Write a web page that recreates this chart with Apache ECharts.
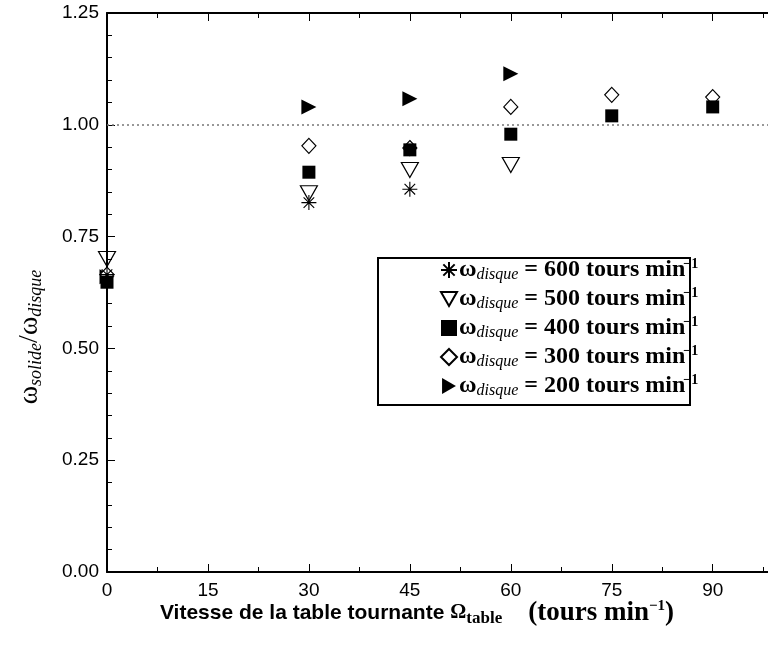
<!DOCTYPE html>
<html>
<head>
<meta charset="utf-8">
<script src="https://cdn.jsdelivr.net/npm/echarts@6/dist/echarts.min.js"></script>
<style>html,body{margin:0;padding:0;background:#fff}#c{width:768px;height:645px}</style>
</head>
<body>
<div id="c"></div>
<script>
var xValues = [0, 30, 45, 60, 75, 90];
var xTicks = [0, 15, 30, 45, 60, 75, 90];
var yTicks = [0, 0.25, 0.5, 0.75, 1.0, 1.25];
var legendRpm = ['600', '500', '400', '300', '200'];
var s600 = [0.665, 0.826, 0.856, null, null, null];
var s500 = [0.700, 0.847, 0.899, 0.910, null, null];
var s400 = [0.648, 0.894, 0.944, 0.979, 1.020, 1.040];
var s300 = [0.665, 0.953, 0.948, 1.040, 1.067, 1.062];
var s200 = [0.660, 1.040, 1.058, 1.114, null, null];
var refLine = 1.0;

function pts(arr) {
  var out = [];
  for (var i = 0; i < xValues.length; i++) if (arr[i] != null) out.push([xValues[i], arr[i]]);
  return out;
}
var serif = 'Liberation Serif';
var sans = 'Liberation Sans';
var legRich = {
  w: {fontFamily: serif, fontWeight: 'bold', fontSize: 24, lineHeight: 26, verticalAlign: 'middle', color: '#000'},
  sub: {fontFamily: serif, fontStyle: 'italic', fontSize: 16, lineHeight: 8, verticalAlign: 'bottom', color: '#000'},
  t: {fontFamily: serif, fontWeight: 'bold', fontSize: 24, lineHeight: 26, verticalAlign: 'middle', color: '#000'},
  sup: {fontFamily: serif, fontWeight: 'bold', fontSize: 14, lineHeight: 8, verticalAlign: 'top', color: '#000', padding: [0, 0, 0, -2]}
};
function legName(r) { return 'ω_disque = ' + r + ' tours min-1'; }

var asterisk = 'path://M0,-10L0,10M-10,0L10,0M-7.07,-7.07L7.07,7.07M-7.07,7.07L7.07,-7.07';
var triDown = 'path://M0,0L20,0L10,17.3Z';
var triRight = 'path://M0,0L17.3,10L0,20Z';
var names = legendRpm.map(legName);

var chart = echarts.init(document.getElementById('c'), null, {renderer: 'canvas'});
var axisCommon = {
  type: 'value', min: 0, max: 100, interval: 15,
  axisLine: {show: true, lineStyle: {color: '#000', width: 2}},
  axisTick: {show: true, inside: true, length: 8, lineStyle: {color: '#000', width: 1}},
  minorTick: {show: true, splitNumber: 2, length: 5, lineStyle: {color: '#000', width: 1}},
  splitLine: {show: false}
};
var option = {
  animation: false,
  backgroundColor: '#fff',
  grid: {left: 107, top: 13, width: 673, bottom: 73, containLabel: false, outerBoundsMode: 'none'},
  xAxis: [
    Object.assign({}, axisCommon, {
      position: 'bottom',
      axisLabel: {show: true, margin: 9, fontFamily: sans, fontSize: 19, color: '#000',
        formatter: function (v) { return xTicks.indexOf(v) >= 0 ? String(v) : ''; }},
      name: '{a|Vitesse de la table tournante}{o|Ω}{osub|table}{p|(tours min}{sup|−1}{q|)}',
      nameLocation: 'middle', nameGap: 27, nameMoveOverlap: false,
      nameTextStyle: {
        padding: [0, 53, 0, 0],
        rich: {
          a: {fontFamily: sans, fontWeight: 'bold', fontSize: 21, lineHeight: 28, verticalAlign: 'middle', color: '#000'},
          o: {fontFamily: serif, fontWeight: 'bold', fontSize: 20, lineHeight: 28, verticalAlign: 'middle', color: '#000', padding: [0, 0, 0, 6]},
          osub: {fontFamily: serif, fontWeight: 'bold', fontSize: 17, lineHeight: 8, verticalAlign: 'bottom', color: '#000'},
          p: {fontFamily: serif, fontWeight: 'bold', fontSize: 27, lineHeight: 28, verticalAlign: 'middle', color: '#000', padding: [0, 0, 0, 26]},
          sup: {fontFamily: serif, fontWeight: 'bold', fontSize: 15, lineHeight: 8, verticalAlign: 'top', color: '#000'},
          q: {fontFamily: serif, fontWeight: 'bold', fontSize: 27, lineHeight: 28, verticalAlign: 'middle', color: '#000'}
        }
      }
    }),
    Object.assign({}, axisCommon, {position: 'top', axisLabel: {show: false}})
  ],
  yAxis: [{
    type: 'value', min: 0, max: 1.25, interval: 0.25,
    axisLine: {show: true, lineStyle: {color: '#000', width: 2}},
    axisTick: {show: true, inside: true, length: 8, lineStyle: {color: '#000', width: 1}},
    minorTick: {show: true, splitNumber: 5, length: 5, lineStyle: {color: '#000', width: 1}},
    splitLine: {show: false},
    axisLabel: {margin: 8, fontFamily: sans, fontSize: 19, color: '#000',
      formatter: function (v) { return v.toFixed(2); }}
  }],
  legend: {
    orient: 'vertical', left: 440, top: 257,
    padding: 0,
    itemGap: 3, itemWidth: 16, itemHeight: 16,
    selectedMode: false,
    data: names,
    formatter: function (n) {
      var r = n.match(/= (\d+)/)[1];
      return '{w|ω}{sub|disque}{t| = ' + r + ' tours min}{sup|−1}';
    },
    textStyle: {rich: legRich, padding: [0, 0, 0, -3]}
  },
  series: [
    {name: names[4], type: 'scatter', data: pts(s200), symbol: triRight, symbolSize: [15, 15],
      itemStyle: {color: '#000', opacity: 1}, z: 3},
    {name: names[3], type: 'scatter', data: pts(s300), symbol: 'diamond', symbolSize: [14, 15],
      itemStyle: {color: '#fff', borderColor: '#000', borderWidth: 1.2, opacity: 1}, z: 4},
    {name: names[2], type: 'scatter', data: pts(s400), symbol: 'rect', symbolSize: [13, 13],
      itemStyle: {color: '#000', opacity: 1}, z: 5},
    {name: names[1], type: 'scatter', data: pts(s500), symbol: triDown, symbolSize: [17, 15],
      itemStyle: {color: 'rgba(0,0,0,0)', borderColor: '#000', borderWidth: 1.2, opacity: 1}, z: 6},
    {name: names[0], type: 'scatter', data: pts(s600), symbol: asterisk, symbolSize: [15, 15],
      itemStyle: {color: 'rgba(0,0,0,0)', borderColor: '#000', borderWidth: 1.1, opacity: 1}, z: 7,
      markLine: {silent: true, symbol: ['none', 'none'], label: {show: false},
        lineStyle: {color: '#777', type: [2, 3], width: 1.5},
        data: [{yAxis: refLine}]}}
  ],
  graphic: [
    {
      type: 'rect', z: 2, left: 377, top: 257,
      shape: {width: 312, height: 147},
      style: {fill: '#fff', stroke: '#000', lineWidth: 2}
    },
    {
      type: 'text', x: 30, y: 337, rotation: Math.PI / 2,
      style: {
        text: '{w|ω}{sub|solide}{w|/ω}{sub|disque}',
        align: 'center', verticalAlign: 'middle',
        rich: {
          w: {fontFamily: serif, fontSize: 28, lineHeight: 30, verticalAlign: 'middle', fill: '#000'},
          sub: {fontFamily: serif, fontStyle: 'italic', fontSize: 18, lineHeight: 8, verticalAlign: 'bottom', fill: '#000'}
        }
      }
    }
  ]
};
chart.setOption(option);
</script>
</body>
</html>
